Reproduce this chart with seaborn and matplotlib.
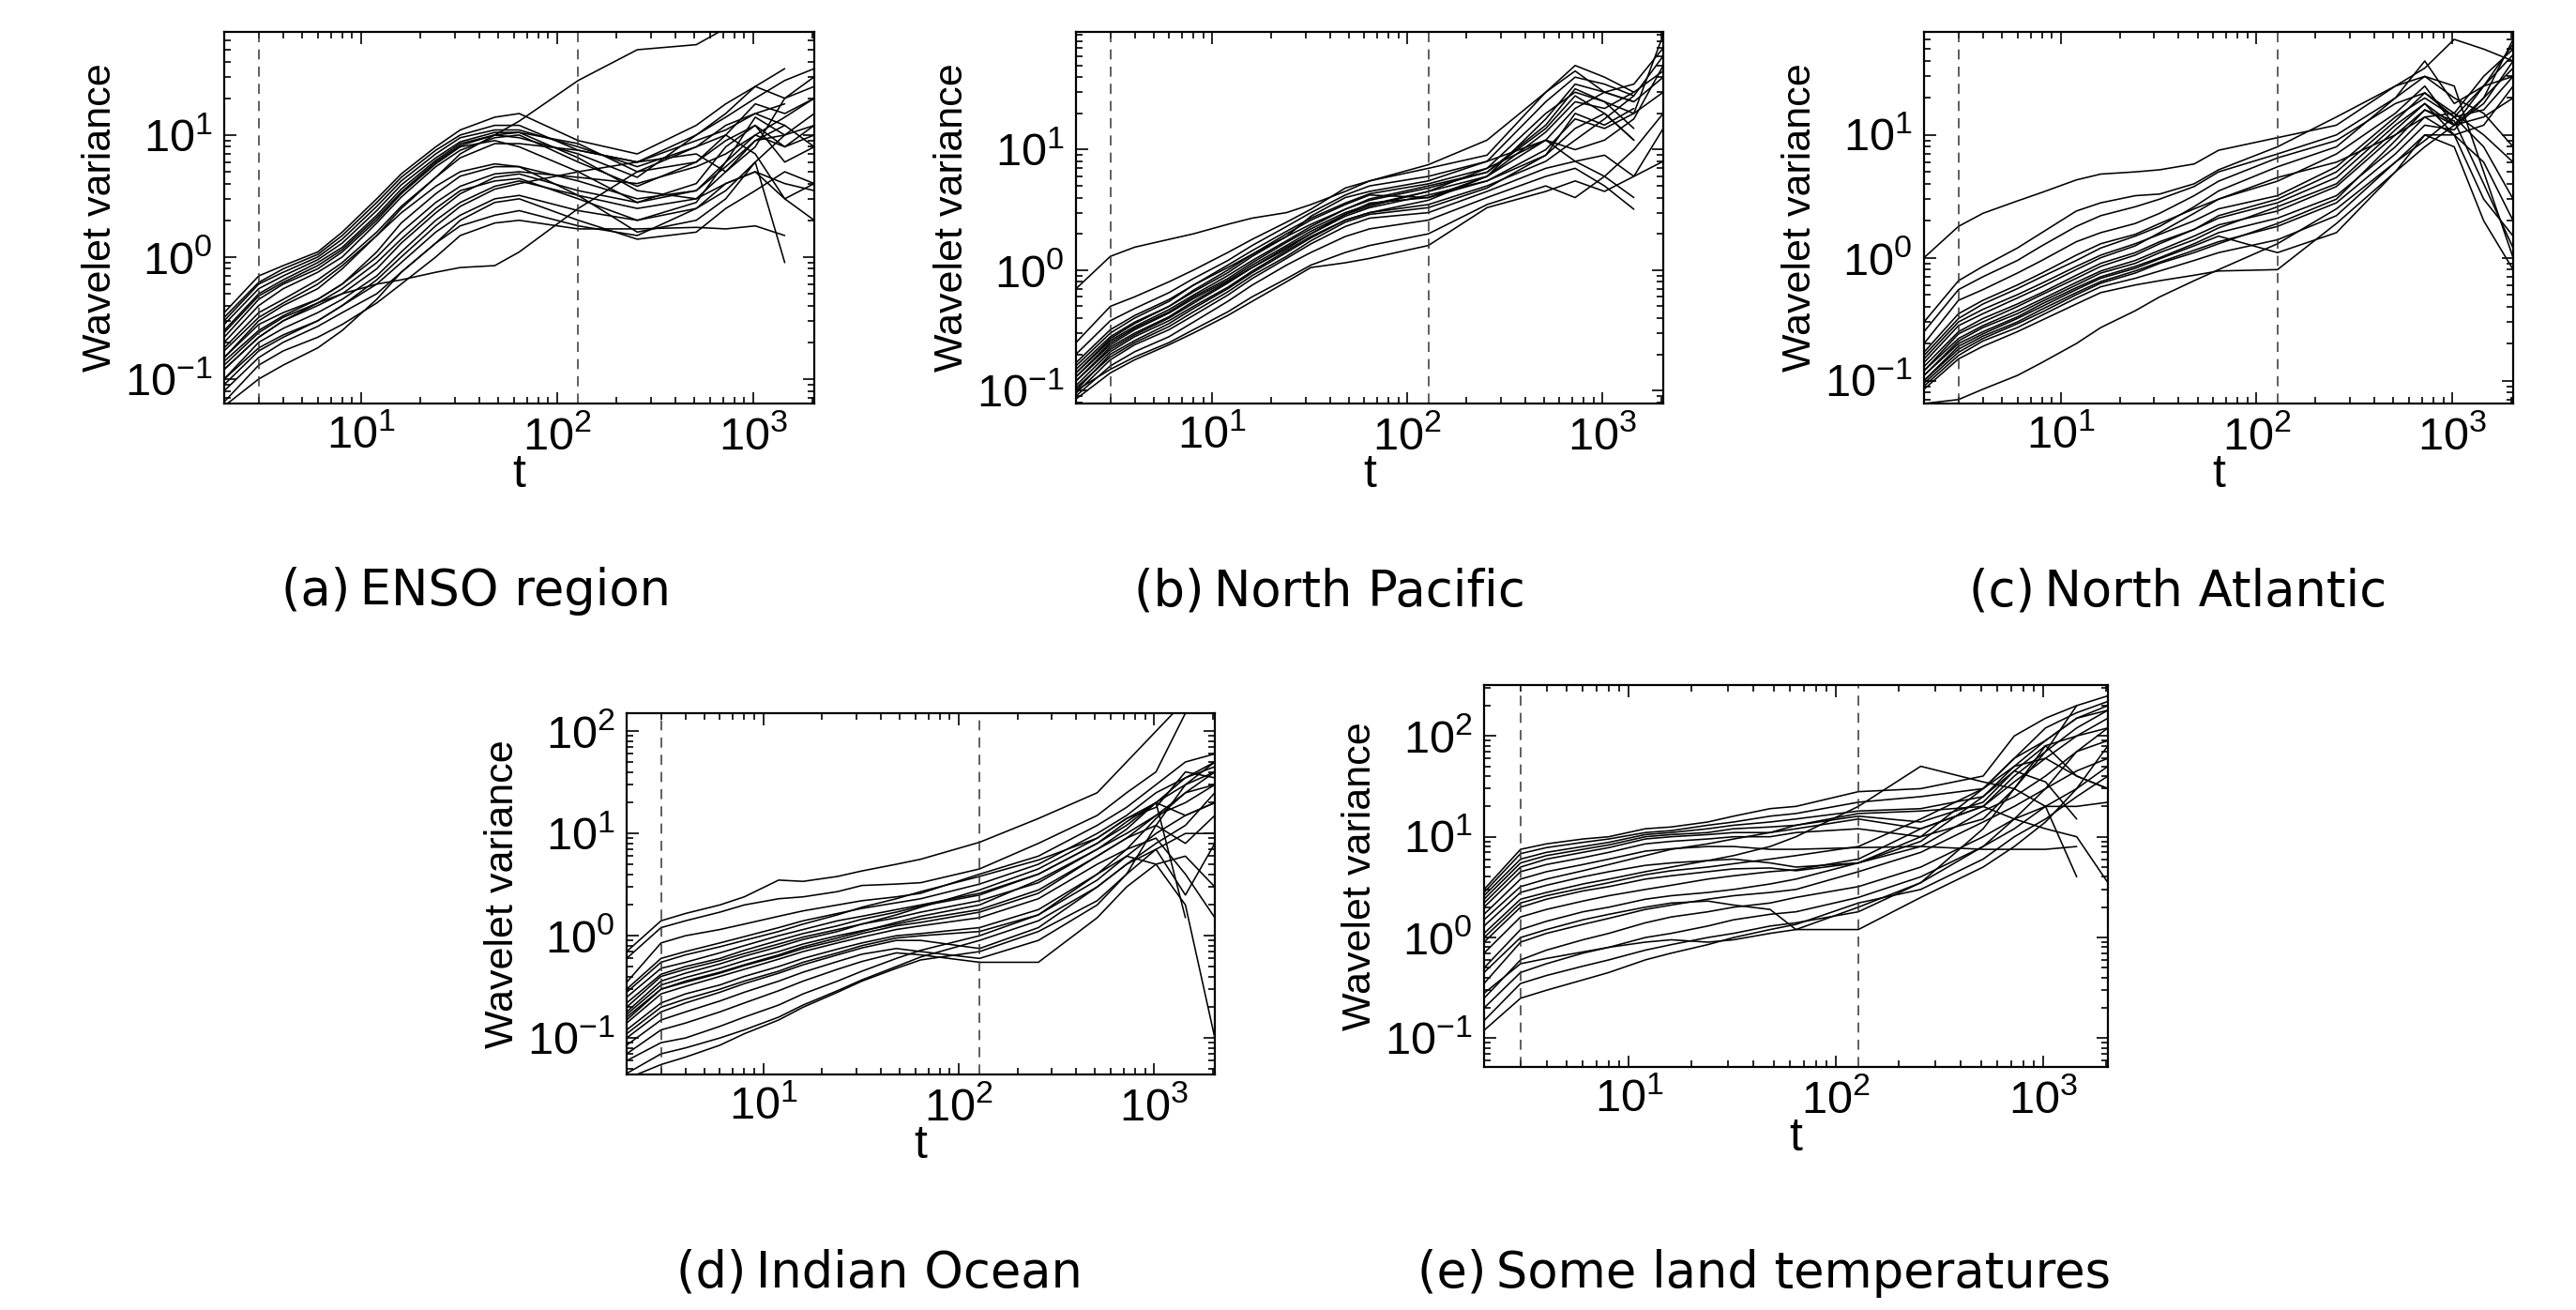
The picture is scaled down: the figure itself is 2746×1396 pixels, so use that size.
import matplotlib
matplotlib.use("Agg")
import numpy as np
import pandas as pd
import matplotlib.pyplot as plt
import seaborn as sns
from matplotlib.ticker import LogLocator

# ------------------------------
# DATA
# ------------------------------
nan = float("nan")

# wavelet scales t
scales = [2, 3, 4, 6, 8, 12, 16, 24, 32, 48, 64, 128, 256, 512, 724, 1024, 1448, 2048]

# dashed reference scales
cut_scales = [3, 128]

enso = [
    [0.35, 0.7, 0.85, 1.1, 1.6, 3.0, 4.8, 8, 11, 14, 15, 9, 7, 12, 18, 25, 20, 30],
    [0.3, 0.6, 0.75, 1.0, 1.4, 2.6, 4.2, 7, 9.5, 11, 11, 8, 5.5, 8, 12, 15, 12, nan],
    [0.25, 0.5, 0.65, 0.9, 1.2, 2.2, 3.6, 6.2, 8.5, 10, 9.5, 7, 4.5, 10, 14, 20, 28, 35],
    [0.2, 0.4, 0.55, 0.75, 1.0, 1.9, 3.1, 5.5, 7.5, 9.5, 10, 6, 3.8, 6, 9, 12, 8, 12],
    [0.18, 0.35, 0.45, 0.65, 0.9, 1.6, 2.6, 4.5, 6.5, 8.5, 8.5, 7.5, 6.0, 7, 5, 9, 10, nan],
    [0.15, 0.3, 0.4, 0.55, 0.8, 1.5, 2.5, 4.5, 7, 10, 13, 28, 50, 55, 75, 90, nan, nan],
    [0.15, 0.28, 0.35, 0.45, 0.6, 1.0, 1.6, 2.8, 3.8, 4.8, 5.0, 4.5, 4.0, 5.5, 7, 10, 14, 20],
    [0.12, 0.22, 0.3, 0.4, 0.5, 0.8, 1.3, 2.3, 3.3, 4.5, 4.8, 3.5, 2.8, 4, 8, 12, 6, 8],
    [0.1, 0.2, 0.26, 0.35, 0.45, 0.7, 1.1, 2.0, 2.8, 3.8, 4.2, 3.2, 2.5, 3, 5, 8, 20, 25],
    [0.1, 0.18, 0.23, 0.3, 0.4, 0.6, 0.9, 1.6, 2.2, 3.0, 3.2, 2.4, 2.0, 2.5, 4, 5, 3, 4],
    [0.08, 0.15, 0.2, 0.27, 0.35, 0.5, 0.75, 1.3, 1.8, 2.2, 2.4, 1.8, 1.5, 2.5, 3.5, 6, 10, 15],
    [0.065, 0.13, 0.17, 0.22, 0.28, 0.42, 0.6, 1.0, 1.5, 1.9, 2.0, 1.7, 1.7, 1.75, 1.7, 1.8, 1.5, nan],
    [0.12, 0.22, 0.3, 0.42, 0.5, 0.6, 0.65, 0.75, 0.82, 0.85, 1.1, 2.5, 5, 8, 10, 7, 3, 2],
    [0.22, 0.45, 0.6, 0.8, 1.1, 2.0, 3.3, 5.8, 8, 9, 8, 5, 2.8, 3.5, 6, 14, 10, 12],
    [0.14, 0.25, 0.33, 0.45, 0.6, 1.1, 1.9, 3.3, 4.6, 5.5, 5.5, 3.2, 1.6, 2.0, 3.0, 6, 0.9, nan],
    [0.09, 0.17, 0.22, 0.3, 0.4, 0.65, 1.0, 1.8, 2.6, 3.6, 4.0, 5, 6, 10, 15, 25, 35, nan],
    [0.28, 0.55, 0.7, 0.95, 1.3, 2.4, 3.9, 6.5, 8.8, 10.5, 10.5, 6.5, 3.5, 3, 4, 5, 4, 3.5],
    [0.06, 0.1, 0.13, 0.18, 0.25, 0.45, 0.75, 1.3, 2.0, 2.8, 3.0, 2.0, 1.4, 1.6, 2.5, 3.5, 5, 4],
    [0.32, 0.62, 0.8, 1.05, 1.5, 2.8, 4.5, 7.5, 10, 12, 12, 7.5, 6, 9, 11, 15, 18, nan],
    [0.17, 0.32, 0.42, 0.6, 0.85, 1.5, 2.3, 3.8, 5.0, 5.8, 5.5, 4.2, 3.0, 3.5, 5.5, 9, 12, 8],
    [0.13, 0.24, 0.32, 0.42, 0.55, 0.9, 1.4, 2.5, 3.5, 4.2, 4.4, 3.0, 2.0, 2.8, 6, 10, 8, 10],
    [0.24, 0.48, 0.62, 0.85, 1.15, 2.1, 3.4, 6.0, 8.2, 10, 10.5, 8.5, 5.0, 6, 10, 18, 15, 20],
]

north_pacific = [
    [0.7, 1.3, 1.55, 1.8, 2.0, 2.4, 2.7, 3.0, 3.5, 4.5, 5.5, 7.5, 12, 30, 45, 30, 25, nan],
    [0.25, 0.5, 0.6, 0.8, 1.0, 1.4, 1.8, 2.5, 3.2, 4.8, 5.5, 7, 9, 30, 50, 40, 30, nan],
    [0.2, 0.38, 0.48, 0.65, 0.85, 1.2, 1.6, 2.3, 3.0, 4.2, 5.0, 6.0, 8, 25, 40, 35, 28, 60],
    [0.17, 0.32, 0.42, 0.57, 0.75, 1.1, 1.45, 2.1, 2.7, 3.6, 4.3, 5.2, 7, 20, 30, 25, 20, 90],
    [0.15, 0.28, 0.37, 0.5, 0.66, 0.95, 1.3, 1.9, 2.4, 3.2, 3.8, 4.8, 6.5, 15, 28, 20, 12, nan],
    [0.13, 0.25, 0.33, 0.45, 0.6, 0.85, 1.15, 1.7, 2.2, 3.0, 3.5, 4.5, 6, 12, 22, 30, 25, 40],
    [0.12, 0.22, 0.29, 0.4, 0.53, 0.78, 1.05, 1.55, 2.0, 2.8, 3.3, 4.2, 5.5, 10, 18, 15, 20, 30],
    [0.1, 0.2, 0.26, 0.36, 0.48, 0.7, 0.95, 1.4, 1.85, 2.6, 3.0, 3.5, 5, 8, 12, 18, 28, nan],
    [0.095, 0.18, 0.24, 0.32, 0.42, 0.62, 0.85, 1.25, 1.65, 2.3, 2.7, 3.0, 4.5, 7, 8, 9, 6, 15],
    [0.09, 0.16, 0.21, 0.28, 0.37, 0.55, 0.75, 1.1, 1.4, 1.9, 2.2, 2.6, 4, 6, 7, 5, 3.2, nan],
    [0.085, 0.14, 0.18, 0.24, 0.3, 0.42, 0.55, 0.8, 1.05, 1.15, 1.25, 1.6, 3.3, 4.5, 5.5, 4.5, 6, 8],
    [0.1, 0.15, 0.19, 0.25, 0.32, 0.45, 0.6, 0.85, 1.1, 1.4, 1.6, 2.0, 3.5, 5, 4, 6, 10, 20],
    [0.16, 0.3, 0.4, 0.55, 0.75, 1.05, 1.35, 1.9, 2.8, 4.0, 4.5, 5.5, 8, 12, 10, 12, 18, 50],
    [0.14, 0.27, 0.36, 0.5, 0.68, 1.0, 1.35, 2.0, 2.6, 3.5, 4.2, 4.0, 5.5, 9, 15, 20, 12, nan],
    [0.11, 0.21, 0.28, 0.38, 0.5, 0.72, 0.98, 1.45, 1.9, 2.6, 3.0, 3.8, 6, 18, 35, 30, 35, 70],
    [0.13, 0.24, 0.32, 0.44, 0.58, 0.82, 1.1, 1.6, 2.1, 2.9, 3.4, 4.5, 7, 12, 8, 6, 4, nan],
    [0.14, 0.26, 0.34, 0.47, 0.62, 0.9, 1.2, 1.75, 2.3, 3.2, 3.9, 5.0, 6.5, 16, 32, 25, 15, nan],
    [0.12, 0.23, 0.3, 0.41, 0.55, 0.8, 1.05, 1.5, 2.0, 2.9, 3.6, 4.0, 6.0, 14, 25, 22, 30, 45],
    [0.105, 0.19, 0.25, 0.34, 0.45, 0.66, 0.9, 1.3, 1.75, 2.5, 2.9, 3.3, 4.8, 9, 20, 16, 22, nan],
]

north_atlantic = [
    [1.0, 1.8, 2.3, 2.9, 3.4, 4.3, 4.8, 5.0, 5.2, 5.8, 7.5, 9.5, 12, 25, 35, 60, 50, 40],
    [0.3, 0.65, 0.85, 1.2, 1.6, 2.4, 2.8, 3.2, 3.3, 4.0, 5.2, 8, 14, 25, 30, 20, 15, 8],
    [0.25, 0.55, 0.7, 0.95, 1.25, 1.8, 2.2, 2.6, 3.0, 3.8, 5.0, 7, 10, 20, 30, 25, 5, 1.0],
    [0.2, 0.45, 0.55, 0.75, 0.95, 1.35, 1.6, 1.9, 2.3, 3.2, 4.2, 6.5, 9, 18, 22, 15, 30, 50],
    [0.17, 0.35, 0.45, 0.6, 0.75, 1.05, 1.3, 1.55, 1.9, 2.5, 3.0, 4.2, 7, 15, 25, 12, 20, 35],
    [0.15, 0.3, 0.38, 0.5, 0.62, 0.85, 1.05, 1.3, 1.55, 2.0, 2.5, 3.2, 5.5, 14, 20, 14, 8, 3],
    [0.13, 0.25, 0.32, 0.42, 0.52, 0.72, 0.9, 1.1, 1.35, 1.7, 2.1, 2.8, 4.5, 12, 18, 10, 12, 25],
    [0.12, 0.22, 0.28, 0.37, 0.46, 0.63, 0.78, 0.95, 1.15, 1.5, 1.85, 2.4, 3.8, 10, 16, 12, 18, 40],
    [0.11, 0.2, 0.25, 0.33, 0.42, 0.57, 0.7, 0.85, 1.0, 1.3, 1.6, 2.1, 3.2, 8, 14, 15, 10, 6],
    [0.1, 0.18, 0.23, 0.3, 0.38, 0.52, 0.64, 0.78, 0.92, 1.15, 1.35, 1.8, 2.8, 7, 12, 11, 20, 60],
    [0.09, 0.16, 0.21, 0.27, 0.34, 0.47, 0.58, 0.68, 0.78, 0.95, 1.1, 1.4, 2.2, 6, 10, 10, 6, 2],
    [0.085, 0.15, 0.19, 0.25, 0.31, 0.42, 0.52, 0.6, 0.65, 0.72, 0.78, 0.8, 1.9, 5, 8, 12, 14, 20],
    [0.065, 0.07, 0.085, 0.11, 0.14, 0.2, 0.27, 0.37, 0.48, 0.65, 0.8, 1.3, 2.5, 6, 9, 14, 25, 30],
    [0.14, 0.28, 0.35, 0.47, 0.58, 0.8, 1.0, 1.25, 1.6, 2.3, 3.0, 4.5, 6, 10, 14, 10, 3, 1.5],
    [0.1, 0.19, 0.24, 0.32, 0.4, 0.55, 0.68, 0.82, 0.98, 1.25, 1.5, 1.1, 1.6, 5, 10, 8, 2, 0.8],
    [0.16, 0.32, 0.42, 0.56, 0.7, 0.95, 1.2, 1.5, 1.8, 2.6, 3.5, 5.5, 8, 20, 40, 18, 25, 45],
    [0.12, 0.24, 0.3, 0.4, 0.5, 0.68, 0.85, 1.05, 1.3, 1.7, 2.2, 3.0, 5.0, 13, 22, 14, 16, 30],
    [0.095, 0.17, 0.22, 0.29, 0.36, 0.5, 0.62, 0.75, 0.9, 1.1, 1.3, 1.9, 3.0, 9, 16, 13, 4, 1.2],
    [0.11, 0.21, 0.27, 0.35, 0.44, 0.6, 0.75, 0.9, 1.1, 1.4, 1.75, 2.6, 4.0, 11, 18, 12, 25, 55],
]

indian_ocean = [
    [0.7, 1.4, 1.65, 2.0, 2.4, 3.5, 3.4, 3.8, 4.3, 5.0, 5.6, 8.2, 14, 25, 50, 100, 200, nan],
    [0.6, 1.2, 1.4, 1.7, 2.0, 2.3, 2.4, 2.7, 3.1, 3.2, 3.3, 4.5, 8, 15, 25, 40, 150, nan],
    [0.35, 0.85, 1.0, 1.15, 1.3, 1.55, 1.75, 2.0, 2.2, 2.4, 2.6, 4, 6, 12, 18, 30, 50, 60],
    [0.3, 0.6, 0.7, 0.85, 0.98, 1.2, 1.4, 1.65, 1.85, 2.1, 2.3, 3.2, 5, 10, 15, 25, 35, 45],
    [0.25, 0.48, 0.55, 0.68, 0.8, 1.0, 1.15, 1.4, 1.55, 1.8, 2.0, 2.6, 4, 8, 12, 20, 30, 40],
    [0.2, 0.4, 0.47, 0.57, 0.67, 0.83, 0.97, 1.15, 1.3, 1.5, 1.7, 2.2, 3.3, 7, 10, 15, 25, 30],
    [0.17, 0.33, 0.39, 0.48, 0.57, 0.7, 0.83, 1.0, 1.12, 1.3, 1.45, 1.8, 2.8, 6, 9, 12, 8, 15],
    [0.14, 0.27, 0.32, 0.4, 0.47, 0.59, 0.7, 0.85, 0.97, 1.15, 1.25, 1.5, 2.3, 5, 7, 9, 4, 1.5],
    [0.12, 0.22, 0.27, 0.33, 0.4, 0.5, 0.6, 0.74, 0.85, 1.0, 1.05, 1.2, 1.8, 4, 6, 5, 2, 0.1],
    [0.1, 0.18, 0.22, 0.28, 0.34, 0.43, 0.52, 0.65, 0.76, 0.9, 0.9, 0.75, 1.2, 3, 5, 8, 12, 25],
    [0.085, 0.15, 0.18, 0.23, 0.28, 0.36, 0.44, 0.56, 0.66, 0.75, 0.7, 0.6, 0.9, 2, 4, 7, 10, 10],
    [0.07, 0.12, 0.14, 0.18, 0.22, 0.29, 0.36, 0.47, 0.56, 0.68, 0.65, 0.55, 0.55, 1.5, 3, 5, 6, 3],
    [0.06, 0.09, 0.1, 0.13, 0.16, 0.21, 0.27, 0.36, 0.45, 0.6, 0.72, 1.0, 1.6, 3.5, 6, 10, 15, 20],
    [0.045, 0.07, 0.08, 0.1, 0.12, 0.16, 0.21, 0.29, 0.37, 0.5, 0.62, 0.9, 1.4, 3, 5, 7, 2.5, 8],
    [0.04, 0.055, 0.065, 0.085, 0.11, 0.15, 0.2, 0.28, 0.36, 0.48, 0.58, 0.7, 1.1, 2.2, 4, 12, 30, 50],
    [0.28, 0.55, 0.65, 0.78, 0.9, 1.1, 1.3, 1.6, 1.9, 2.3, 2.7, 3.8, 5.5, 9, 14, 20, 15, 20],
    [0.18, 0.36, 0.43, 0.53, 0.63, 0.78, 0.92, 1.1, 1.3, 1.6, 1.9, 2.8, 4.5, 9, 14, 18, 40, 35],
    [0.15, 0.3, 0.36, 0.44, 0.52, 0.65, 0.78, 0.95, 1.1, 1.35, 1.55, 2.0, 3.5, 7, 11, 20, 1.5, nan],
    [0.22, 0.42, 0.5, 0.6, 0.72, 0.9, 1.05, 1.25, 1.45, 1.7, 1.95, 2.5, 4.0, 8, 13, 20, 35, 50],
    [0.16, 0.3, 0.35, 0.43, 0.51, 0.63, 0.75, 0.9, 1.05, 1.25, 1.35, 1.7, 2.6, 6, 9, 15, 20, 30],
    [0.11, 0.2, 0.24, 0.3, 0.36, 0.45, 0.55, 0.68, 0.8, 0.95, 1.0, 1.1, 1.6, 4, 7, 14, 25, 40],
]

land = [
    [3.0, 7.5, 8.5, 9.5, 10, 12, 12.5, 14, 16, 19, 20, 28, 30, 40, 100, 150, 200, 250],
    [2.6, 6.0, 7.0, 8.0, 8.8, 10.5, 11, 12, 13, 14, 15, 18, 19, 25, 50, 90, 150, 200],
    [2.2, 5.0, 6.0, 7.0, 7.8, 9.5, 10, 10.5, 11, 11, 12, 15, 12, 20, 40, 70, 120, 180],
    [2.0, 4.5, 5.3, 6.2, 7.0, 8.5, 9.0, 9.5, 10, 10, 11, 12, 10, 15, 30, 80, 40, 30],
    [1.7, 3.8, 4.5, 5.3, 6.0, 7.2, 7.6, 8.0, 8.0, 7.5, 7.5, 7.8, 8, 7.5, 7.5, 7.5, 8.0, nan],
    [1.3, 2.8, 3.3, 4.0, 4.5, 5.2, 5.5, 5.8, 6.0, 5.5, 5.0, 5.5, 10, 30, 50, 60, 40, 30],
    [0.9, 2.0, 2.4, 2.9, 3.2, 3.8, 4.1, 4.5, 4.8, 4.9, 4.6, 5.5, 9, 25, 45, 35, 15, nan],
    [0.7, 1.6, 1.9, 2.3, 2.6, 3.0, 3.3, 3.8, 4.1, 4.5, 4.7, 6, 12, 20, 35, 60, 100, 150],
    [0.5, 1.2, 1.45, 1.8, 2.0, 2.4, 2.6, 2.8, 3.0, 3.4, 3.8, 5.5, 8, 18, 25, 40, 70, 90],
    [0.35, 0.9, 1.1, 1.35, 1.55, 1.9, 2.1, 2.4, 2.6, 2.8, 3.0, 4.5, 7, 14, 20, 30, 45, 60],
    [0.25, 0.6, 0.75, 0.95, 1.1, 1.4, 1.6, 1.8, 2.0, 2.2, 2.5, 3.2, 5, 10, 15, 20, 20, 22],
    [0.2, 0.45, 0.55, 0.7, 0.8, 1.0, 1.1, 1.3, 1.5, 1.7, 1.8, 2.5, 4, 8, 12, 20, 30, 50],
    [0.15, 0.35, 0.42, 0.52, 0.6, 0.75, 0.85, 1.0, 1.1, 1.3, 1.4, 1.8, 3.5, 8, 15, 30, 70, 120],
    [0.12, 0.25, 0.3, 0.38, 0.45, 0.6, 0.7, 0.85, 1.0, 1.2, 1.35, 2.2, 3.0, 6, 10, 15, 25, 40],
    [0.28, 0.55, 0.62, 0.72, 0.8, 0.9, 0.95, 0.9, 0.95, 1.1, 1.2, 1.2, 2.5, 5, 8, 14, 30, 80],
    [1.5, 3.2, 3.8, 4.6, 5.3, 6.5, 7.5, 8.5, 9.5, 11, 13, 17, 18, 20, 15, 12, 10, 3.5],
    [0.45, 1.0, 1.2, 1.5, 1.7, 2.0, 2.2, 2.3, 2.1, 1.9, 1.2, 2.0, 3.5, 12, 30, 70, 200, nan],
    [1.1, 2.4, 2.8, 3.4, 3.8, 4.5, 5.0, 5.8, 6.5, 8, 10, 20, 50, 35, 30, 20, 4, nan],
    [2.8, 6.8, 7.8, 8.8, 9.5, 11, 11.5, 13, 14, 16, 17, 22, 25, 30, 60, 120, 170, 220],
    [2.4, 5.5, 6.5, 7.5, 8.3, 10, 10.5, 11, 12, 12.5, 13, 16, 14, 22, 45, 80, 100, 120],
    [1.0, 2.2, 2.6, 3.1, 3.5, 4.2, 4.6, 5.0, 5.4, 6.0, 6.5, 8, 15, 30, 60, 90, 150, 180],
]

captions = ["(a)\u2009ENSO region", "(b)\u2009North Pacific", "(c)\u2009North Atlantic",
            "(d)\u2009Indian Ocean", "(e)\u2009Some land temperatures"]
y_limits = [(0.063, 70), (0.078, 95), (0.065, 69), (0.044, 150), (0.052, 320)]


def to_long(curves):
    rows = []
    for k, curve in enumerate(curves):
        for t, v in zip(scales, curve):
            rows.append((k, t, v))
    return pd.DataFrame(rows, columns=["series", "t", "variance"]).dropna()


# ------------------------------
# FIGURE
# ------------------------------
sns.set_style("ticks")
plt.rcParams["font.family"] = ["Liberation Sans Narrow", "Liberation Sans", "DejaVu Sans"]
for key in ["text.color", "axes.labelcolor", "xtick.color", "ytick.color", "axes.edgecolor"]:
    plt.rcParams[key] = "black"

fig = plt.figure(figsize=(27.46, 13.96), dpi=100)

W, H = 2746.0, 1396.0
# pixel boxes (left, top, right, bottom)
boxes = [(239, 34, 868, 430), (1147, 34, 1773, 430), (2051, 34, 2679, 430),
         (668, 760, 1295, 1145), (1582, 730, 2247, 1137)]
caption_xy = [(508, 630), (1417, 630), (2322, 630), (937, 1357), (1881, 1357)]

datasets = [enso, north_pacific, north_atlantic, indian_ocean, land]

for curves, box, ylim, cap, cxy in zip(datasets, boxes, y_limits, captions, caption_xy):
    l, t, r, b = box
    ax = fig.add_axes([l / W, (H - b) / H, (r - l) / W, (b - t) / H])
    df = to_long(curves)
    sns.lineplot(data=df, x="t", y="variance", units="series", estimator=None,
                 color="black", lw=1.15, ax=ax, legend=False, sort=False)
    ax.set_xscale("log")
    ax.set_yscale("log")
    ax.set_xlim(2, 2048)
    ax.set_ylim(*ylim)
    ax.yaxis.set_major_locator(LogLocator(base=10, numticks=30))
    ax.yaxis.set_minor_locator(LogLocator(base=10, subs=np.arange(2, 10), numticks=30))
    for c in cut_scales:
        ax.axvline(c, color="0.2", lw=1.1, ls=(0, (7, 5)))
    ax.set_xticks([10, 100, 1000])
    ax.tick_params(which="both", direction="in", top=True, right=True,
                   labelsize=35, width=1.2)
    ax.tick_params(which="major", length=9, pad=9)
    ax.tick_params(which="minor", length=5)
    for s in ax.spines.values():
        s.set_linewidth(1.6)
    ax.set_xlabel("t", fontsize=36, labelpad=-4)
    ax.set_ylabel("Wavelet variance", fontsize=31, family=["Liberation Sans", "DejaVu Sans"],
                  labelpad=4)
    fig.text(cxy[0] / W, 1 - cxy[1] / H, cap, ha="center", va="center",
             fontsize=38, family="DejaVu Sans")

fig.savefig("out.png", dpi=100)
